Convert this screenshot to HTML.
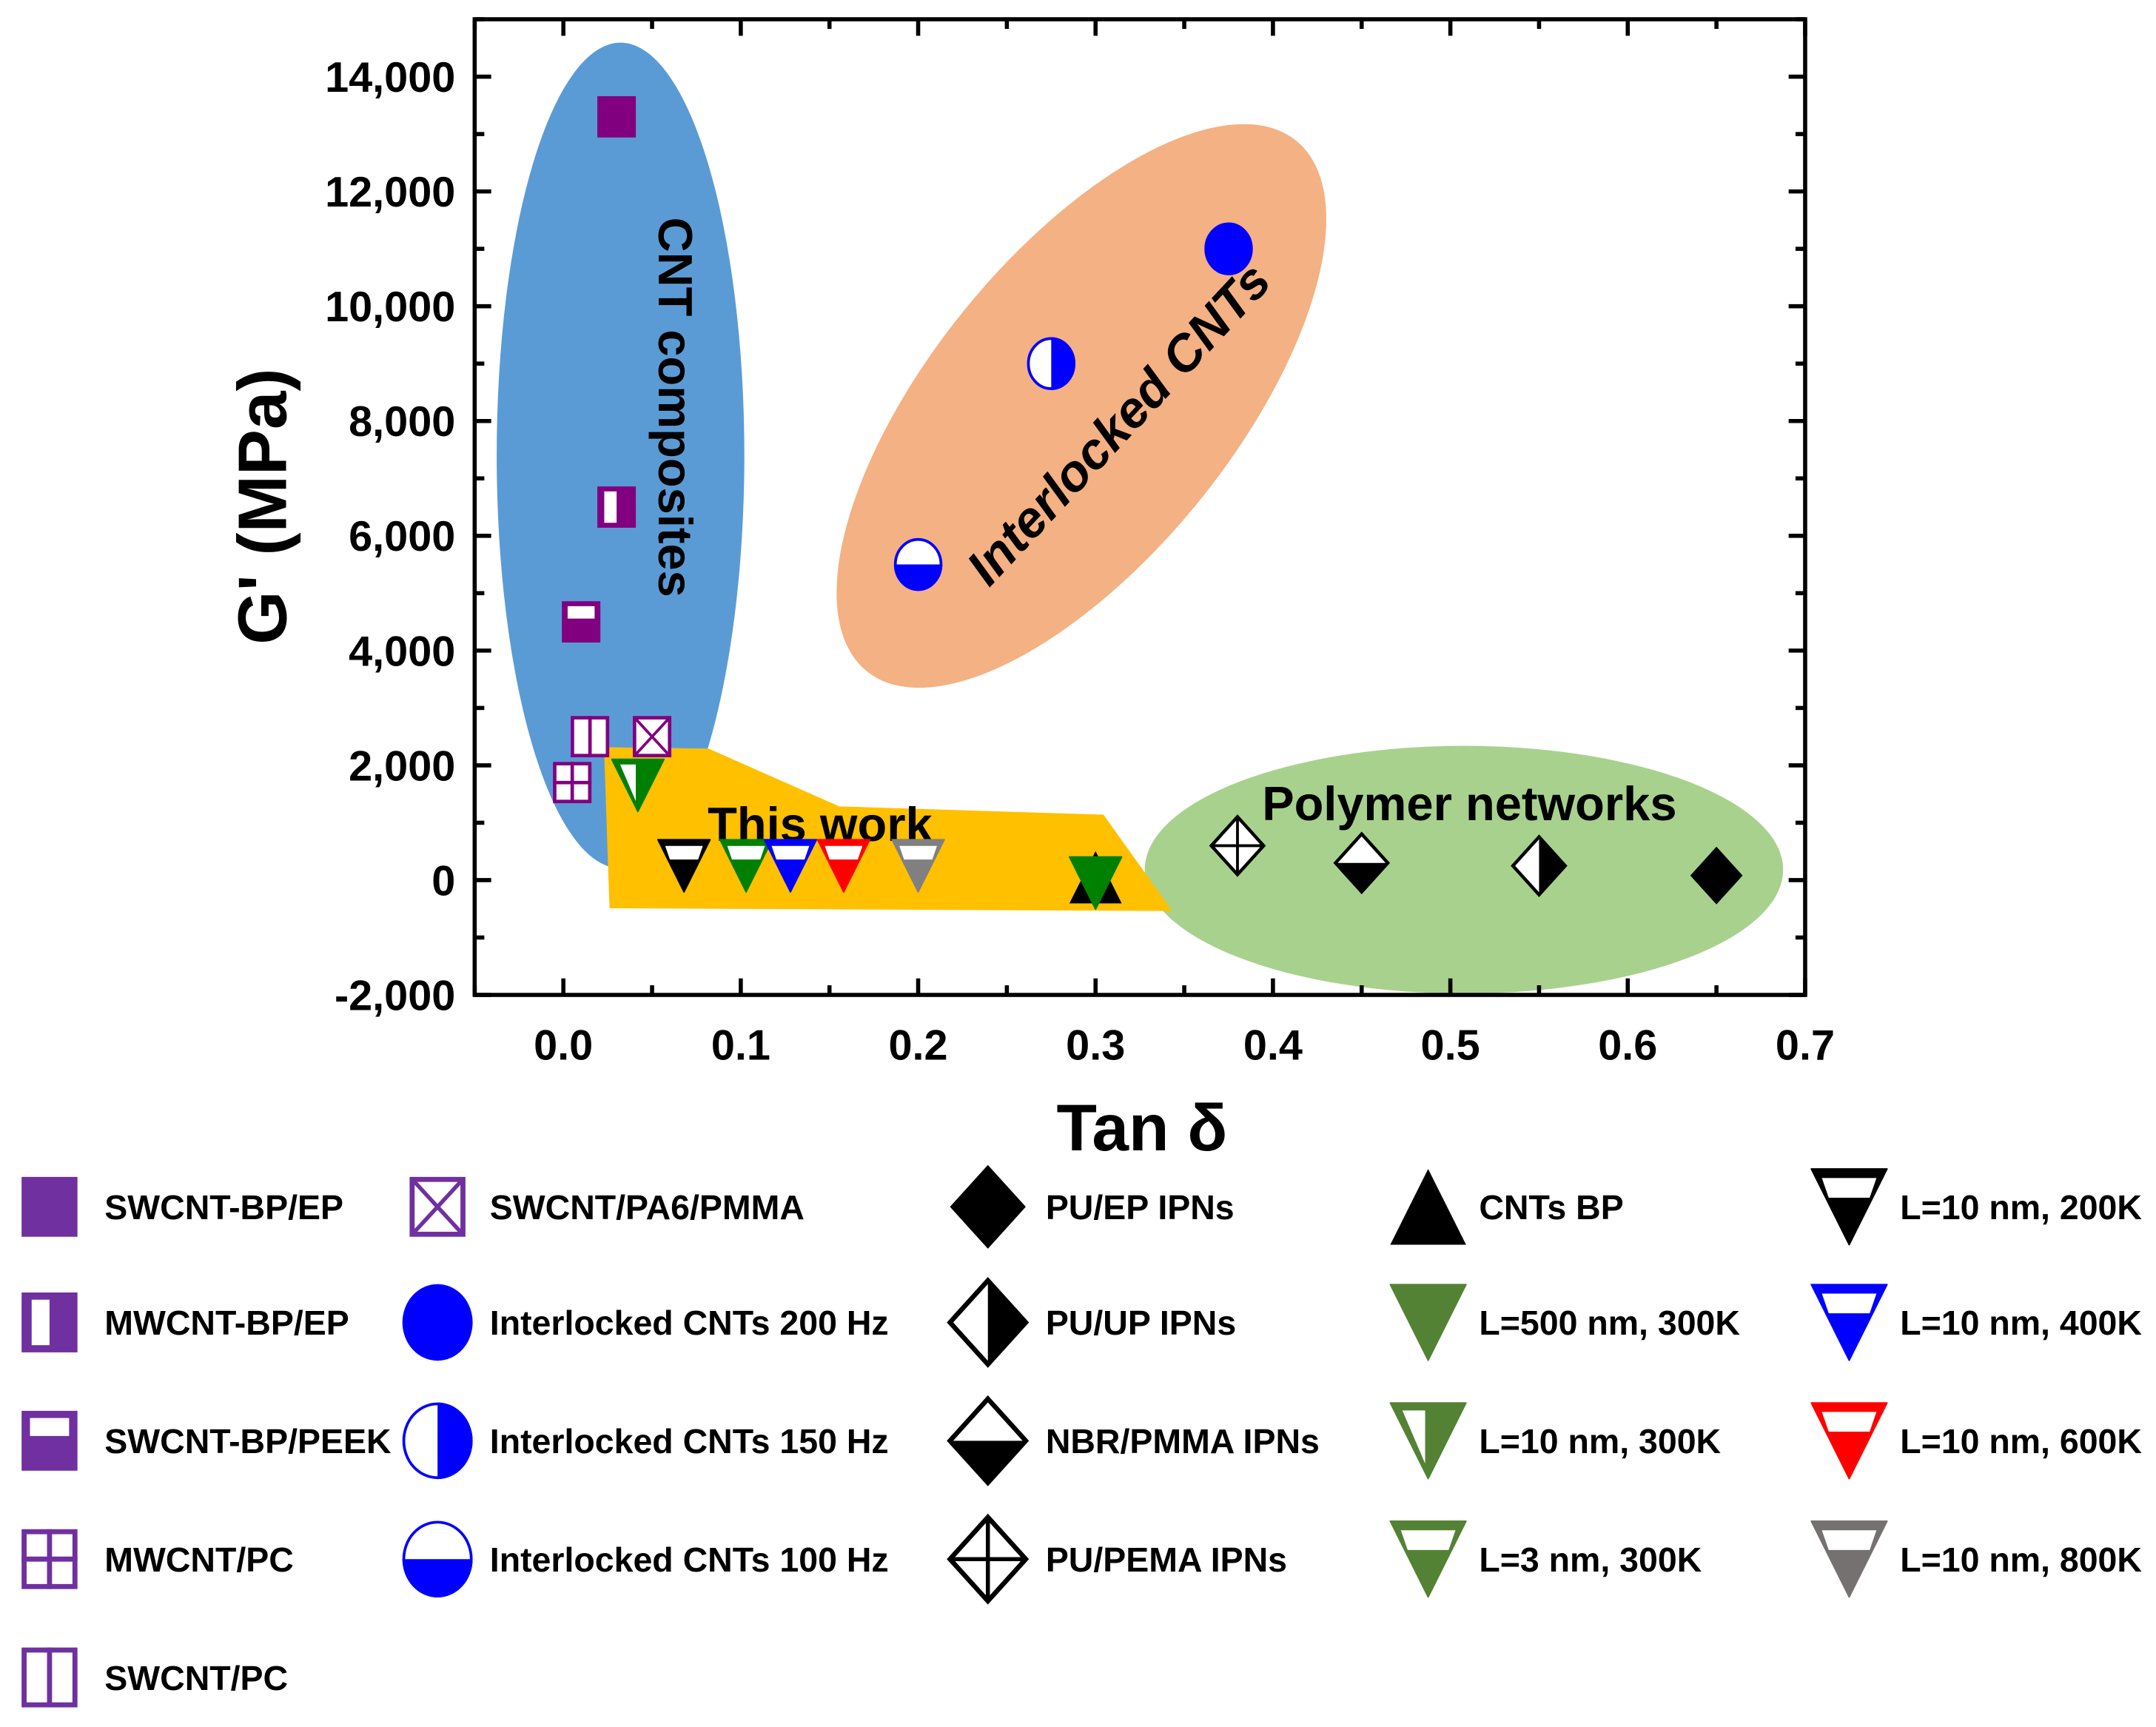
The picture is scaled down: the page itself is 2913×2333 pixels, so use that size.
<!DOCTYPE html>
<html><head><meta charset="utf-8"><style>
html,body{margin:0;padding:0;background:#fff}
svg{display:block}
text{font-family:"Liberation Sans",Arial,sans-serif;font-weight:bold}
</style></head><body>
<svg id="chart" width="2913" height="2333" viewBox="0 0 1567 1255" preserveAspectRatio="none" xmlns="http://www.w3.org/2000/svg">
<g id="regions"></g>
<g id="axes"></g>
<g id="marks"></g>
<g id="legend"></g>
</svg>
<script>
const xTicks=[0.0,0.1,0.2,0.3,0.4,0.5,0.6,0.7];
const xTickLabels=["0.0","0.1","0.2","0.3","0.4","0.5","0.6","0.7"];
const yTicks=[-2000,0,2000,4000,6000,8000,10000,12000,14000];
const yTickLabels=["-2,000","0","2,000","4,000","6,000","8,000","10,000","12,000","14,000"];
const seriesNames=["SWCNT-BP/EP","MWCNT-BP/EP","SWCNT-BP/PEEK","MWCNT/PC","SWCNT/PC","SWCNT/PA6/PMMA","Interlocked CNTs 200 Hz","Interlocked CNTs 150 Hz","Interlocked CNTs 100 Hz","PU/EP IPNs","PU/UP IPNs","NBR/PMMA IPNs","PU/PEMA IPNs","CNTs BP","L=500 nm, 300K","L=10 nm, 300K","L=3 nm, 300K","L=10 nm, 200K","L=10 nm, 400K","L=10 nm, 600K","L=10 nm, 800K"];
const tanDelta=[0.03,0.03,0.01,0.005,0.015,0.05,0.375,0.275,0.2,0.65,0.55,0.45,0.38,0.3,0.3,0.042,0.103,0.068,0.128,0.158,0.2];
const gPrime=[13300,6500,4500,1700,2500,2500,11000,9000,5500,80,250,300,600,50,-50,1650,250,250,250,250,250];
const markerTypes=["sqFill","sqLeft","sqTop","sqGrid","sqBars","sqX","circFill","circRight","circBottom","diaFill","diaLeft","diaTop","diaCross","triUp","triDown","triLeft","triTop","triTop","triTop","triTop","triTop"];
const plotColors=["#800080","#800080","#800080","#800080","#800080","#800080","#0000ff","#0000ff","#0000ff","#000","#000","#000","#000","#000","#008000","#008000","#008000","#000","#0000ff","#ff0000","#808080"];
const legendColors=["#7030a0","#7030a0","#7030a0","#7030a0","#7030a0","#7030a0","#0000ff","#0000ff","#0000ff","#000","#000","#000","#000","#000","#548235","#548235","#548235","#000","#0000ff","#ff0000","#767171"];

const NS="http://www.w3.org/2000/svg";
const L=345,R=1312,T=14,B=723;
const X0=-0.05,X1=0.7,Y0=-2000,Y1=15000;
function sx(v){return L+(v-X0)/(X1-X0)*(R-L);}
function sy(v){return B-(v-Y0)/(Y1-Y0)*(B-T);}
function el(tag,attrs,parent){const e=document.createElementNS(NS,tag);for(const k in attrs)e.setAttribute(k,attrs[k]);if(parent)parent.appendChild(e);return e;}

const reg=document.getElementById('regions');
let e;
e=el('ellipse',{cx:451,cy:331,rx:90,ry:300,fill:'#5b9bd5'},reg);


e=el('ellipse',{cx:786,cy:295,rx:248,ry:110,fill:'#f4b183',transform:'rotate(-51 786 295)'},reg);


e=el('ellipse',{cx:1064,cy:632,rx:232,ry:90,fill:'#a9d18e'},reg);


e=el('polygon',{points:'439,543 515,544 610,586 802,592 852,662 443,660',fill:'#ffc000'},reg);



function addText(parent,x,y,str,size,attrs,name){const t=el('text',Object.assign({x:x,y:y,'font-size':size},attrs||{}),parent);t.textContent=str;return t;}
addText(reg,488,296,'CNT composites',35,{'text-anchor':'middle',transform:'rotate(90 488 296)','dominant-baseline':'middle'},'cnt-composites-label');
addText(reg,815,310,'Interlocked CNTs',37,{'text-anchor':'middle','font-style':'italic',transform:'rotate(-47 815 310)','dominant-baseline':'middle'},'interlocked-cnts-label');
addText(reg,1068,596,'Polymer networks',35,{'text-anchor':'middle'},'polymer-networks-label');
addText(reg,596,611,'This work',35,{'text-anchor':'middle'},'this-work-label');

const ax=document.getElementById('axes');
e=el('rect',{x:L,y:T,width:R-L,height:B-T,fill:'none',stroke:'#000','stroke-width':3},ax);


for(let v=-0.05;v<=0.7001;v+=0.05){const x=sx(v);const major=Math.abs(Math.round(v*10)-v*10)<1e-6;const len=major?12:7;
 el('line',{x1:x,y1:B,x2:x,y2:B-len,stroke:'#000','stroke-width':3},ax);
 el('line',{x1:x,y1:T,x2:x,y2:T+len,stroke:'#000','stroke-width':3},ax);}
for(let v=-2000;v<=15000;v+=1000){const y=sy(v);const major=v%2000===0;const len=major?12:7;
 el('line',{x1:L,y1:y,x2:L+len,y2:y,stroke:'#000','stroke-width':3},ax);
 el('line',{x1:R,y1:y,x2:R-len,y2:y,stroke:'#000','stroke-width':3},ax);}
xTicks.forEach((v,i)=>{addText(ax,sx(v),770,xTickLabels[i],31,{'text-anchor':'middle'},'x-tick-label');});
yTicks.forEach((v,i)=>{addText(ax,331,sy(v)+11,yTickLabels[i],31,{'text-anchor':'end'},'y-tick-label');});
addText(ax,830,836,'Tan δ',48,{'text-anchor':'middle'},'x-axis-title');
addText(ax,208,368,"G' (MPa)",50,{'text-anchor':'middle',transform:'rotate(-90 208 368)'},'y-axis-title');

function marker(g,type,cx,cy,w,h,c){
 const sw=Math.max(2,w*0.09);
 if(type.startsWith('sq')){
  const x=cx-w/2,y=cy-h/2;
  if(type==='sqFill'){el('rect',{x:x,y:y,width:w,height:h,fill:c},g);}
  else if(type==='sqLeft'){el('rect',{x:x,y:y,width:w,height:h,fill:c},g);el('rect',{x:x+w*0.18,y:y+h*0.12,width:w*0.32,height:h*0.76,fill:'#fff'},g);}
  else if(type==='sqTop'){el('rect',{x:x,y:y,width:w,height:h,fill:c},g);el('rect',{x:x+w*0.15,y:y+h*0.12,width:w*0.7,height:h*0.3,fill:'#fff'},g);}
  else {el('rect',{x:x+sw/2,y:y+sw/2,width:w-sw,height:h-sw,fill:'#fff',stroke:c,'stroke-width':sw},g);
   if(type==='sqGrid'){el('line',{x1:cx,y1:y,x2:cx,y2:y+h,stroke:c,'stroke-width':sw},g);el('line',{x1:x,y1:cy,x2:x+w,y2:cy,stroke:c,'stroke-width':sw},g);}
   if(type==='sqBars'){el('line',{x1:cx,y1:y,x2:cx,y2:y+h,stroke:c,'stroke-width':sw},g);}
   if(type==='sqX'){el('line',{x1:x+sw,y1:y+sw,x2:x+w-sw,y2:y+h-sw,stroke:c,'stroke-width':sw*0.8},g);el('line',{x1:x+w-sw,y1:y+sw,x2:x+sw,y2:y+h-sw,stroke:c,'stroke-width':sw*0.8},g);}}
 } else if(type.startsWith('circ')){
  const rx=w/2,ry=h/2;
  el('ellipse',{cx:cx,cy:cy,rx:rx-1,ry:ry-1,fill:type==='circFill'?c:'#fff',stroke:c,'stroke-width':2},g);
  if(type==='circRight')el('path',{d:`M${cx},${cy-ry} A${rx},${ry} 0 0 1 ${cx},${cy+ry} Z`,fill:c},g);
  if(type==='circBottom')el('path',{d:`M${cx-rx},${cy} A${rx},${ry} 0 0 0 ${cx+rx},${cy} Z`,fill:c},g);
 } else if(type.startsWith('dia')){
  const hw=w/2,hh=h/2;const pts=`${cx},${cy-hh} ${cx+hw},${cy} ${cx},${cy+hh} ${cx-hw},${cy}`;
  if(type==='diaFill')el('polygon',{points:pts,fill:c},g);
  else{el('polygon',{points:pts,fill:'#fff',stroke:c,'stroke-width':sw*0.7},g);
   if(type==='diaLeft')el('polygon',{points:`${cx},${cy-hh} ${cx+hw},${cy} ${cx},${cy+hh}`,fill:c},g);
   if(type==='diaTop')el('polygon',{points:`${cx-hw},${cy} ${cx+hw},${cy} ${cx},${cy+hh}`,fill:c},g);
   if(type==='diaCross'){el('line',{x1:cx,y1:cy-hh,x2:cx,y2:cy+hh,stroke:c,'stroke-width':sw*0.6},g);el('line',{x1:cx-hw,y1:cy,x2:cx+hw,y2:cy,stroke:c,'stroke-width':sw*0.6},g);}}
 } else if(type==='triUp'){
  el('polygon',{points:`${cx},${cy-h/2} ${cx+w/2},${cy+h/2} ${cx-w/2},${cy+h/2}`,fill:c},g);
 } else {
  const pts=`${cx-w/2},${cy-h/2} ${cx+w/2},${cy-h/2} ${cx},${cy+h/2}`;
  el('polygon',{points:pts,fill:c,stroke:c,'stroke-width':1,'stroke-linejoin':'round'},g);
  if(type==='triTop')el('polygon',{points:`${cx-w*0.36},${cy-h*0.38} ${cx+w*0.36},${cy-h*0.38} ${cx+w*0.27},${cy-h*0.12} ${cx-w*0.27},${cy-h*0.12}`,fill:'#fff'},g);
  if(type==='triLeft')el('polygon',{points:`${cx-w*0.34},${cy-h*0.4} ${cx-w*0.04},${cy-h*0.4} ${cx-w*0.04},${cy+h*0.3}`,fill:'#fff'},g);
 }
}
function size(type,leg){
 const k=leg?1.45:1;
 if(type.startsWith('sq'))return [28*k,30*k];
 if(type.startsWith('circ'))return [32*k*1.1,32*k*1.2];
 if(type.startsWith('dia'))return [38*k,42*k];
 return [38*k,38*k];
}
const mk=document.getElementById('marks');
seriesNames.forEach((n,i)=>{const g=el('g',{},mk);
 
 
 const s=size(markerTypes[i],false);
 marker(g,markerTypes[i],sx(tanDelta[i]),sy(gPrime[i]),s[0],s[1],plotColors[i]);});

const lg=document.getElementById('legend');
const colMarkX=[36,318,718,1038,1344],colTextX=[76,356,760,1075,1381];
const rowY=[877,961,1047,1133,1219];
const legendOrder=[[0,1,2,3,4],[5,6,7,8],[9,10,11,12],[13,14,15,16],[17,18,19,20]];
legendOrder.forEach((col,ci)=>col.forEach((si,ri)=>{
 const g=el('g',{},lg);
 
 
 const s=size(markerTypes[si],true);
 marker(g,markerTypes[si],colMarkX[ci],rowY[ri],s[0],s[1],legendColors[si]);
 addText(g,colTextX[ci],rowY[ri]+9,seriesNames[si],25,{},'legend-label');
}));
</script>
</body></html>
